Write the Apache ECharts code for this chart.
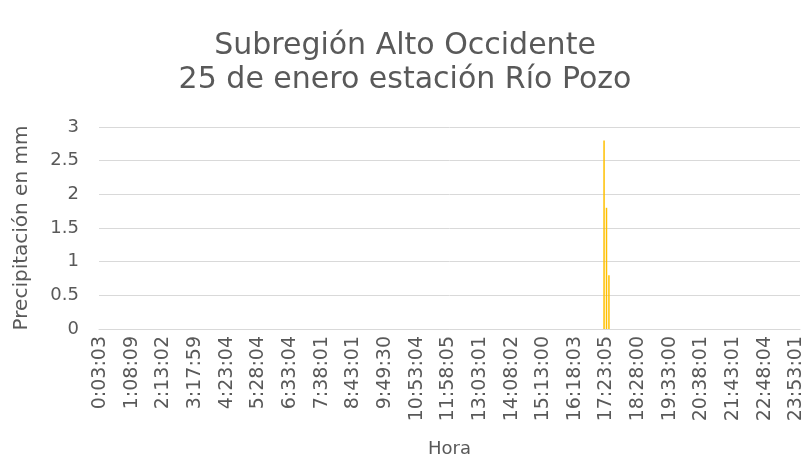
<!DOCTYPE html>
<html>
<head>
<meta charset="utf-8">
<script src="https://cdn.jsdelivr.net/npm/echarts@6/dist/echarts.min.js"></script>
<style>
  html, body { margin: 0; padding: 0; background: #fff; }
  #chart { width: 810px; height: 466px; }
</style>
</head>
<body>
<div id="chart"></div>
<script>
// etiquetas visibles del eje (cada 13 registros de 5 minutos)
const tickLabels = ['0:03:03', '1:08:09', '2:13:02', '3:17:59', '4:23:04', '5:28:04', '6:33:04', '7:38:01',
  '8:43:01', '9:49:30', '10:53:04', '11:58:05', '13:03:01', '14:08:02', '15:13:00', '16:18:03',
  '17:23:05', '18:28:00', '19:33:00', '20:38:01', '21:43:01', '22:48:04', '23:53:01'];
// horas con lluvia y su precipitación (mm); el resto del día es 0
const rainTimes = ['17:18:03', '17:23:05', '17:28:03'];
const rainValues = [2.8, 1.8, 0.8];
const yTicks = [0, 0.5, 1, 1.5, 2, 2.5, 3];

// registros cada 5 minutos a partir de 0:03:03
const categories = [];
for (let i = 0; i < 288; i++) {
  if (i % 13 === 0 && tickLabels[i / 13]) { categories.push(tickLabels[i / 13]); continue; }
  const s = 3 * 60 + 3 + i * 300;
  const h = Math.floor(s / 3600), m = Math.floor((s % 3600) / 60), sec = s % 60;
  categories.push(h + ':' + String(m).padStart(2, '0') + ':' + String(sec).padStart(2, '0'));
}
const values = categories.map(t => {
  const k = rainTimes.indexOf(t);
  return k >= 0 ? rainValues[k] : 0;
});

const font = '"DejaVu Sans", sans-serif';
const grey = '#595959';
const chart = echarts.init(document.getElementById('chart'));
chart.setOption({
  animation: false,
  title: {
    text: 'Subregión Alto Occidente\n25 de enero estación Río Pozo',
    left: 'center', top: 24,
    textStyle: { fontFamily: font, fontSize: 30, fontWeight: 'normal', color: grey, lineHeight: 34 }
  },
  grid: { left: 99, right: 10, top: 127, bottom: 137, containLabel: false },
  xAxis: {
    type: 'category',
    data: categories,
    name: 'Hora', nameLocation: 'middle', nameGap: 111,
    nameTextStyle: { fontFamily: font, fontSize: 18, color: grey },
    axisLine: { show: true, lineStyle: { color: '#d9d9d9' } },
    axisTick: { show: false },
    axisLabel: { interval: 12, rotate: 90, margin: 7, fontFamily: font, fontSize: 19, color: grey }
  },
  yAxis: {
    type: 'value', min: yTicks[0], max: yTicks[yTicks.length - 1], interval: 0.5,
    name: 'Precipitación en mm', nameLocation: 'middle', nameGap: 67,
    nameTextStyle: { fontFamily: font, fontSize: 20, color: grey },
    axisLine: { show: false }, axisTick: { show: false },
    axisLabel: { margin: 20, fontFamily: font, fontSize: 18, color: grey },
    splitLine: { lineStyle: { color: '#d9d9d9', width: 1 } }
  },
  series: [{
    type: 'bar',
    data: values,
    barWidth: 1.5,
    itemStyle: { color: '#FFC000' }
  }]
});
</script>
</body>
</html>
